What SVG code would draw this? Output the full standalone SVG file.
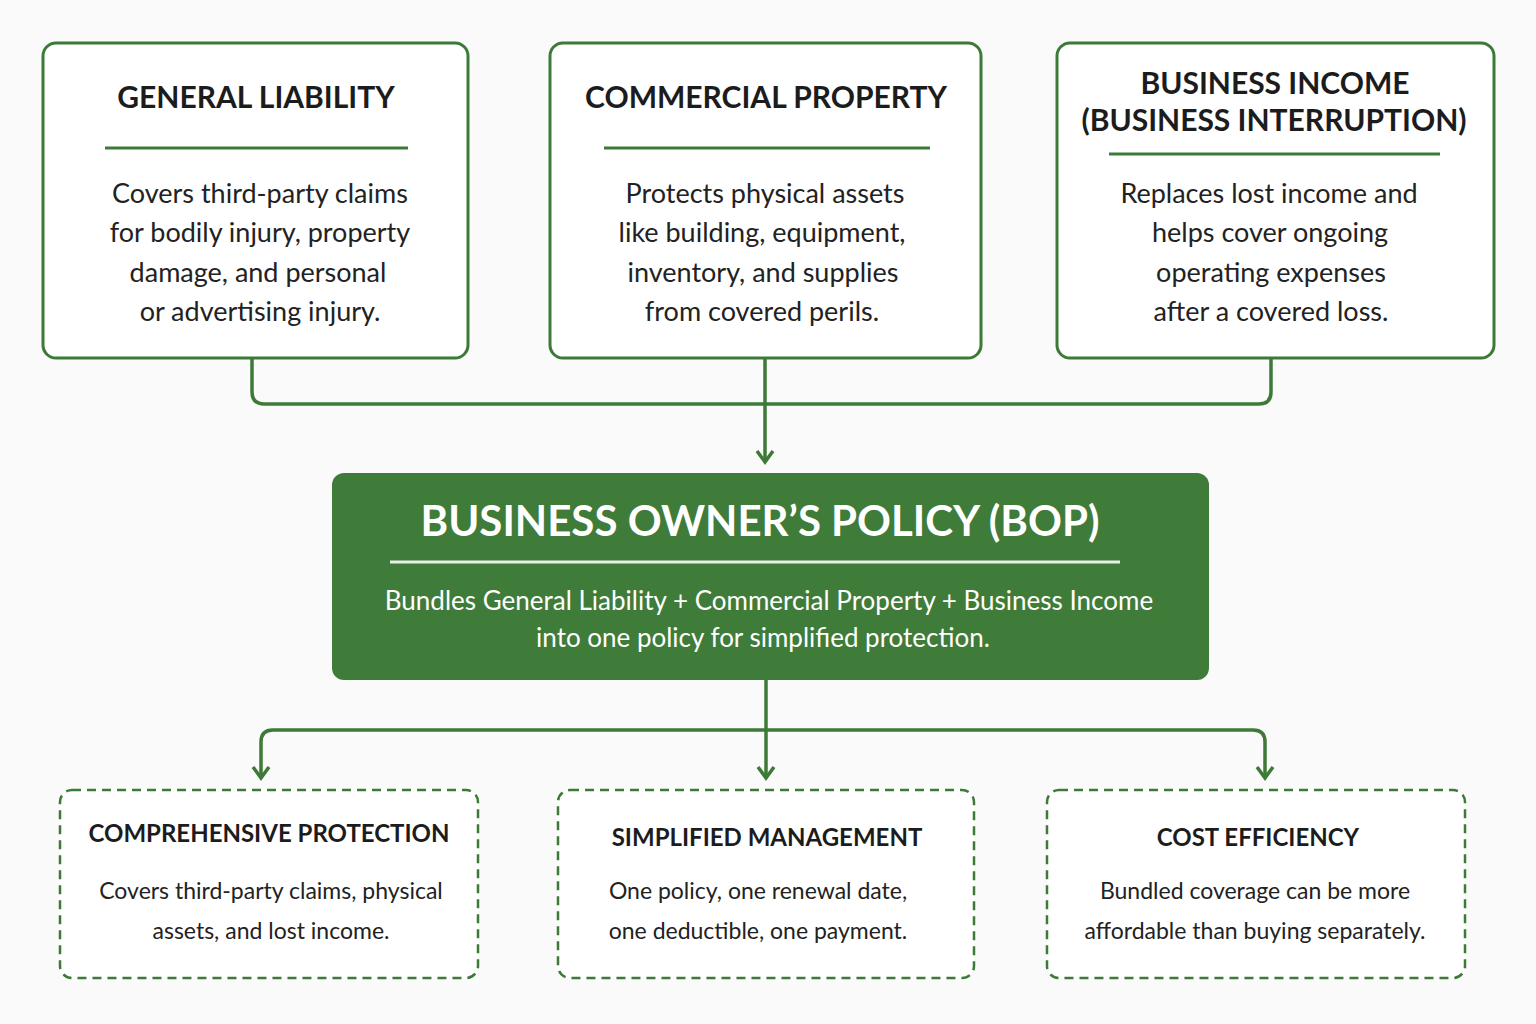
<svg xmlns="http://www.w3.org/2000/svg" width="1536" height="1024" viewBox="0 0 1536 1024">
<defs>
<style>
.box{fill:#fff;stroke:#3d7a37;stroke-width:3}
.dbox{fill:#fff;stroke:#3d7a37;stroke-width:2.5;stroke-dasharray:9 6}
.t{font-family:Lato,"Liberation Sans",sans-serif;font-weight:bold;font-size:30px;fill:#1c1c1c;text-anchor:middle}
.b{font-family:Lato,"Liberation Sans",sans-serif;font-size:27px;fill:#222;text-anchor:middle}
.t2{font-family:Lato,"Liberation Sans",sans-serif;font-weight:bold;font-size:24px;fill:#1c1c1c;text-anchor:middle}
.b2{font-family:Lato,"Liberation Sans",sans-serif;font-size:23px;fill:#222;text-anchor:middle}
.div{stroke:#3d7a37;stroke-width:3}
.c{fill:none;stroke:#3d7a37;stroke-width:3.5}
</style>
<marker id="ar" viewBox="0 0 20 20" refX="15" refY="10" markerWidth="20" markerHeight="20" markerUnits="userSpaceOnUse" orient="auto-start-reverse">
<path d="M4 2 L15 10 L4 18" fill="none" stroke="#3d7a37" stroke-width="3.5"/>
</marker>
</defs>
<rect width="1536" height="1024" fill="#fafafa"/>
<g id="connectors">
<path class="c" d="M252 358 V392 Q252 404 264 404 H1259 Q1271 404 1271 392 V358"/>
<path class="c" d="M765 358 V462" marker-end="url(#ar)"/>
<path class="c" d="M766 680 V778" marker-end="url(#ar)"/>
<path class="c" d="M261 778 V742 Q261 730 273 730 H1253 Q1265 730 1265 742 V778" marker-start="url(#ar)" marker-end="url(#ar)"/>
</g>
<g id="general-liability">
<rect class="box" x="43" y="43" width="425" height="315" rx="13"/>
<text class="t" x="256" y="108">GENERAL LIABILITY</text>
<line class="div" x1="105" y1="148" x2="408" y2="148"/>
<text class="b" x="260" y="203">Covers third-party claims</text>
<text class="b" x="260" y="242">for bodily injury, property</text>
<text class="b" x="258" y="282">damage, and personal</text>
<text class="b" x="260" y="321">or advertising injury.</text>
</g>
<g id="commercial-property">
<rect class="box" x="550" y="43" width="431" height="315" rx="13"/>
<text class="t" x="766" y="108">COMMERCIAL PROPERTY</text>
<line class="div" x1="604" y1="148" x2="930" y2="148"/>
<text class="b" x="765" y="203">Protects physical assets</text>
<text class="b" x="762" y="242">like building, equipment,</text>
<text class="b" x="763" y="282">inventory, and supplies</text>
<text class="b" x="762" y="321">from covered perils.</text>
</g>
<g id="business-income">
<rect class="box" x="1057" y="43" width="437" height="315" rx="13"/>
<text class="t" x="1275" y="94">BUSINESS INCOME</text>
<text class="t" x="1274" y="131">(BUSINESS INTERRUPTION)</text>
<line class="div" x1="1109" y1="154" x2="1440" y2="154"/>
<text class="b" x="1269" y="203">Replaces lost income and</text>
<text class="b" x="1270" y="242">helps cover ongoing</text>
<text class="b" x="1271" y="282">operating expenses</text>
<text class="b" x="1271" y="321">after a covered loss.</text>
</g>
<g id="bop">
<rect x="332" y="473" width="877" height="207" rx="12" fill="#3f7b39"/>
<text x="760" y="536" font-family="Lato,'Liberation Sans',sans-serif" font-weight="bold" font-size="42" fill="#fff" text-anchor="middle">BUSINESS OWNER’S POLICY (BOP)</text>
<line x1="390" y1="562" x2="1120" y2="562" stroke="#e8f0e6" stroke-width="3"/>
<text x="769" y="610" font-family="Lato,'Liberation Sans',sans-serif" font-size="26" fill="#fff" text-anchor="middle">Bundles General Liability + Commercial Property + Business Income</text>
<text x="763" y="647" font-family="Lato,'Liberation Sans',sans-serif" font-size="26" fill="#fff" text-anchor="middle">into one policy for simplified protection.</text>
</g>
<g id="comprehensive">
<rect class="dbox" x="60" y="790" width="418" height="188" rx="12"/>
<text class="t2" x="269" y="842">COMPREHENSIVE PROTECTION</text>
<text class="b2" x="271" y="899">Covers third-party claims, physical</text>
<text class="b2" x="271" y="939">assets, and lost income.</text>
</g>
<g id="simplified">
<rect class="dbox" x="558" y="790" width="416" height="188" rx="12"/>
<text class="t2" x="767" y="846">SIMPLIFIED MANAGEMENT</text>
<text class="b2" x="758" y="899">One policy, one renewal date,</text>
<text class="b2" x="758" y="939">one deductible, one payment.</text>
</g>
<g id="cost">
<rect class="dbox" x="1047" y="790" width="418" height="188" rx="12"/>
<text class="t2" x="1258" y="846">COST EFFICIENCY</text>
<text class="b2" x="1255" y="899">Bundled coverage can be more</text>
<text class="b2" x="1255" y="939">affordable than buying separately.</text>
</g>
</svg>
